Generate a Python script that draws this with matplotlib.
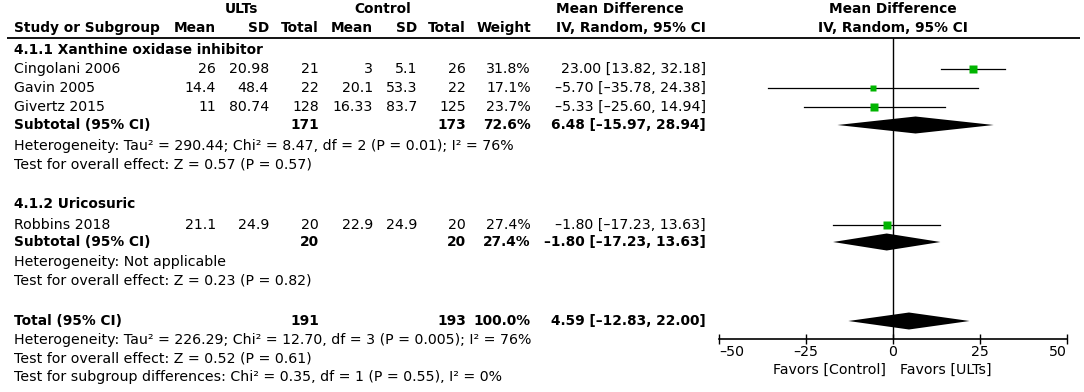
import matplotlib.pyplot as plt

plt.rcParams['font.family'] = 'DejaVu Sans'
FS = 10.2   # regular text
FSB = 9.9   # bold text

# study level data
studies = ['Cingolani 2006', 'Gavin 2005', 'Givertz 2015', 'Robbins 2018']
ult_mean = [26, 14.4, 11, 21.1]
ult_sd = [20.98, 48.4, 80.74, 24.9]
ult_n = [21, 22, 128, 20]
ctl_mean = [3, 20.1, 16.33, 22.9]
ctl_sd = [5.1, 53.3, 83.7, 24.9]
ctl_n = [26, 22, 125, 20]
weight = [31.8, 17.1, 23.7, 27.4]
md = [23.00, -5.70, -5.33, -1.80]
md_lo = [13.82, -35.78, -25.60, -17.23]
md_hi = [32.18, 24.38, 14.94, 13.63]

# subgroups
groups = ['4.1.1 Xanthine oxidase inhibitor', '4.1.2 Uricosuric']
sub_ult_n = [171, 20]
sub_ctl_n = [173, 20]
sub_weight = [72.6, 27.4]
sub_md = [6.48, -1.80]
sub_lo = [-15.97, -17.23]
sub_hi = [28.94, 13.63]
sub_het = ['Heterogeneity: Tau\u00b2 = 290.44; Chi\u00b2 = 8.47, df = 2 (P = 0.01); I\u00b2 = 76%',
           'Heterogeneity: Not applicable']
sub_test = ['Test for overall effect: Z = 0.57 (P = 0.57)',
            'Test for overall effect: Z = 0.23 (P = 0.82)']

# overall
tot_ult_n, tot_ctl_n, tot_weight = 191, 193, 100.0
tot_md, tot_lo, tot_hi = 4.59, -12.83, 22.00
tot_het = 'Heterogeneity: Tau\u00b2 = 226.29; Chi\u00b2 = 12.70, df = 3 (P = 0.005); I\u00b2 = 76%'
tot_test = 'Test for overall effect: Z = 0.52 (P = 0.61)'
tot_diff = 'Test for subgroup differences: Chi\u00b2 = 0.35, df = 1 (P = 0.55), I\u00b2 = 0%'

xticks = [-50, -25, 0, 25, 50]

# layout (pixel rows / columns)
study_rows = [69, 88, 107, 225]
group_rows = [50, 204]
sub_rows = [125, 242]
het_rows = [146, 262]
test_rows = [164, 280]
total_row = 321
col_lab = 14
col_um, col_us, col_un = 216, 269, 319
col_cm, col_cs, col_cn = 373, 417, 466
col_w, col_md = 531, 706
x0, x1 = 719, 1067
axis_y = 339
line_y = 38


def neg(s):
    return s.replace('-', '\u2013')


def ci(m, l, h):
    return neg(f'{m:.2f} [{l:.2f}, {h:.2f}]')


fig = plt.figure(figsize=(10.84, 3.92), dpi=100)
tab = fig.add_axes([0, 0, 1, 1])
tab.set_xlim(0, 1084)
tab.set_ylim(392, 0)
tab.axis('off')

ax = fig.add_axes([x0 / 1084, 0, (x1 - x0) / 1084, 1])
ax.set_xlim(-50, 50)
ax.set_ylim(392, 0)
ax.patch.set_visible(False)


def t(x, y, s, ha='right', bold=False):
    tab.text(x, y, s, ha=ha, va='center', fontsize=FSB if bold else FS,
             fontweight='bold' if bold else 'normal')


# header
t(241, 9, 'ULTs', 'center', True)
t(383, 9, 'Control', 'center', True)
t(620, 9, 'Mean Difference', 'center', True)
t(col_lab, 28, 'Study or Subgroup', 'left', True)
for x, s in zip([col_um, col_us, col_un, col_cm, col_cs, col_cn, col_w],
                ['Mean', 'SD', 'Total', 'Mean', 'SD', 'Total', 'Weight']):
    t(x, 28, s, bold=True)
t(col_md, 28, 'IV, Random, 95% CI', bold=True)
ax.text(0, 9, 'Mean Difference', ha='center', va='center', fontsize=FSB, fontweight='bold')
ax.text(0, 28, 'IV, Random, 95% CI', ha='center', va='center', fontsize=FSB, fontweight='bold')
tab.hlines(line_y, 7, 1080, color='black', lw=1.3)

# studies
for i in range(len(studies)):
    y = study_rows[i]
    t(col_lab, y, studies[i], 'left')
    t(col_um, y, f'{ult_mean[i]:g}')
    t(col_us, y, f'{ult_sd[i]:g}')
    t(col_un, y, f'{ult_n[i]}')
    t(col_cm, y, f'{ctl_mean[i]:g}')
    t(col_cs, y, f'{ctl_sd[i]:g}')
    t(col_cn, y, f'{ctl_n[i]}')
    t(col_w, y, f'{weight[i]:.1f}%')
    t(col_md, y, ci(md[i], md_lo[i], md_hi[i]))
    ax.plot([md_lo[i], md_hi[i]], [y, y], color='black', lw=0.9)
    ax.plot(md[i], y, marker='s', ms=1.55 * weight[i] ** 0.5 * 0.72,
            color='#00b400', mec='none')

# subgroups
h = 8.5
for g in range(len(groups)):
    t(col_lab, group_rows[g], groups[g], 'left', True)
    y = sub_rows[g]
    t(col_lab, y, 'Subtotal (95% CI)', 'left', True)
    t(col_un, y, f'{sub_ult_n[g]}', bold=True)
    t(col_cn, y, f'{sub_ctl_n[g]}', bold=True)
    t(col_w, y, f'{sub_weight[g]:.1f}%', bold=True)
    t(col_md, y, ci(sub_md[g], sub_lo[g], sub_hi[g]), bold=True)
    ax.fill([sub_lo[g], sub_md[g], sub_hi[g], sub_md[g]], [y, y - h, y, y + h],
            color='black', lw=0)
    t(col_lab, het_rows[g], sub_het[g], 'left')
    t(col_lab, test_rows[g], sub_test[g], 'left')

# total
y = total_row
t(col_lab, y, 'Total (95% CI)', 'left', True)
t(col_un, y, f'{tot_ult_n}', bold=True)
t(col_cn, y, f'{tot_ctl_n}', bold=True)
t(col_w, y, f'{tot_weight:.1f}%', bold=True)
t(col_md, y, ci(tot_md, tot_lo, tot_hi), bold=True)
ax.fill([tot_lo, tot_md, tot_hi, tot_md], [y, y - h, y, y + h], color='black', lw=0)
t(col_lab, 340, tot_het, 'left')
t(col_lab, 358, tot_test, 'left')
t(col_lab, 377, tot_diff, 'left')

# axis
ax.vlines(0, line_y, axis_y, color='black', lw=1)
for s in ['top', 'left', 'right']:
    ax.spines[s].set_visible(False)
ax.spines['bottom'].set_position(('data', axis_y))
ax.spines['bottom'].set_linewidth(1.2)
ax.set_yticks([])
ticks = ax.set_xticks(xticks, labels=[neg(str(v)) for v in xticks])
ticks[0].label1.set_horizontalalignment('left')
ticks[-1].label1.set_horizontalalignment('right')
ax.tick_params(axis='x', direction='inout', length=7, width=1, labelsize=FS, pad=1)
t(886, 370, 'Favors [Control]')
t(900, 370, 'Favors [ULTs]', 'left')

fig.savefig('out.png', dpi=100)
